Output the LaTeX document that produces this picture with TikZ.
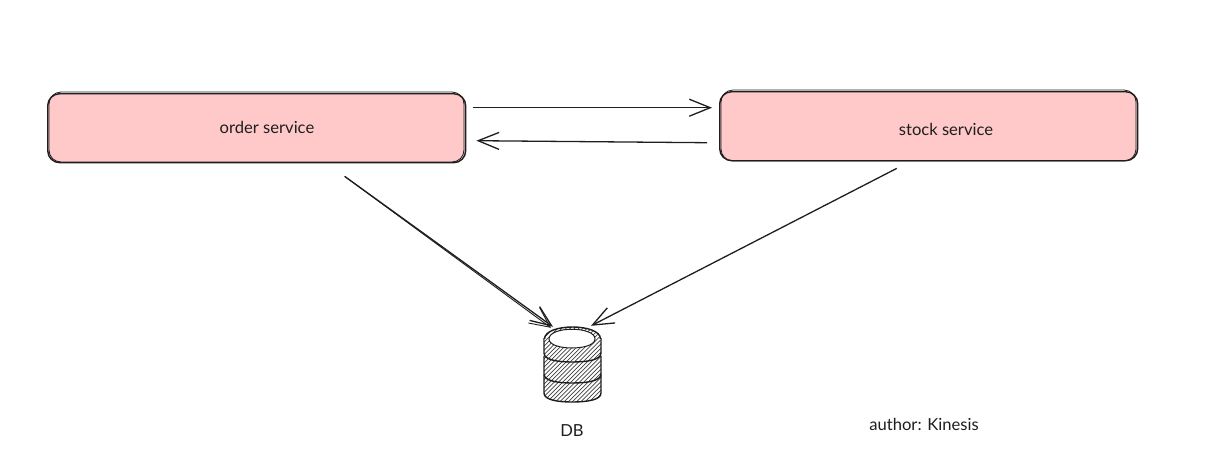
\documentclass[tikz,border=0pt]{standalone}
\usepackage{fontspec}
\setmainfont{Lato}
\usetikzlibrary{arrows.meta,calc}
\definecolor{boxpink}{HTML}{FFC9C9}
\definecolor{inkdark}{HTML}{1E1E1E}
\tikzset{
  x=1pt,y=-1pt,
  servicebox/.style={draw=inkdark,fill=boxpink,line width=1.4pt,rounded corners=12pt,
    minimum width=418pt,minimum height=69pt,inner sep=0pt,anchor=north west},
  sketchline/.style={draw=inkdark,line width=0.8pt,rounded corners=12pt},
  link/.style={draw=inkdark,line width=1.3pt,-{Straight Barb[length=21pt,width=17pt,line width=1.3pt]}},
  linkthin/.style={draw=inkdark,line width=0.9pt,-{Straight Barb[length=20pt,width=19pt,line width=0.9pt]}},
  label/.style={text=inkdark,font=\fontsize{16.6}{18}\selectfont,inner sep=0pt},
  tier/.style={draw=inkdark,line width=1.4pt},
  hatch/.style={draw=inkdark!85,line width=0.7pt},
}
\begin{document}
\begin{tikzpicture}
\useasboundingbox (0,0) rectangle (1213,456);

% service boxes with a second loose pen stroke
\node[servicebox] (order) at (47,93) {};
\draw[sketchline] (49,92) rectangle (464,162);
\node[servicebox] (stock) at (719,91) {};
\draw[sketchline] (721,90) rectangle (1136,161);
\node[label] at (267,127) {order service};
\node[label] at (946,129) {stock service};

% anchor for the arrows coming into the database
\node[minimum width=58pt,minimum height=2pt,inner sep=0pt] (db) at (572,327) {};

% database: three stacked tiers, bottom one first
\foreach \topy/\boty in {375/402, 356/383, 338/362}{
  \begin{scope}
    \clip (544,\topy) -- (544,\boty-9) .. controls (544,\boty-2) and (558,\boty) .. (572,\boty)
      .. controls (587,\boty) and (601,\boty-2) .. (601,\boty-9) -- (601,\topy)
      .. controls (601,\topy-14) and (544,\topy-14) .. (544,\topy) -- cycle;
    \fill[white] (540,320) rectangle (605,405);
    \foreach \k in {-75,-70.8,...,70}{
      \draw[hatch] (530+\k,410) -- (530+\k+90,320);
    }
  \end{scope}
  \draw[tier] (544,\topy) -- (544,\boty-9) .. controls (544,\boty-2) and (558,\boty) .. (572,\boty)
    .. controls (587,\boty) and (601,\boty-2) .. (601,\boty-9) -- (601,\topy);
}
\begin{scope}
  \clip (544.5,339) .. controls (544.5,323) and (600.5,323) .. (600.5,339)
  .. controls (600.5,352) and (544.5,352) .. (544.5,339) -- cycle;
  \fill[white] (540,320) rectangle (605,355);
  \foreach \k in {-75,-70.8,...,70}{
    \draw[hatch] (530+\k,410) -- (530+\k+90,320);
  }
\end{scope}
\draw[tier] (544.5,339) .. controls (544.5,323) and (600.5,323) .. (600.5,339);
\draw[tier,line width=1pt,fill=white] (549,339) .. controls (549,326) and (595,326) .. (595,339)
  .. controls (595,351) and (549,351) .. (549,339) -- cycle;
\node[label] at (572,431) {DB};
\node[label] at (924,424) {author: Kinesis};

% connectors
\draw[link] ([xshift=7pt,yshift=20.5pt]order.east) -- ([xshift=-7pt,yshift=18.5pt]stock.west);
\draw[link] ([xshift=-12pt,yshift=-16.5pt]stock.west) -- ([xshift=10pt,yshift=-12.5pt]order.east);
\draw[link] ([xshift=88pt,yshift=-13pt]order.south) -- ([xshift=-19pt,yshift=-1pt]db.north);
\draw[linkthin] ([xshift=88pt,yshift=-13pt]order.south) -- ([xshift=-21pt,yshift=-2pt]db.north);
\draw[link] ([xshift=-32pt,yshift=-7pt]stock.south) -- ([xshift=19pt,yshift=0pt]db.north);
\end{tikzpicture}
\end{document}
